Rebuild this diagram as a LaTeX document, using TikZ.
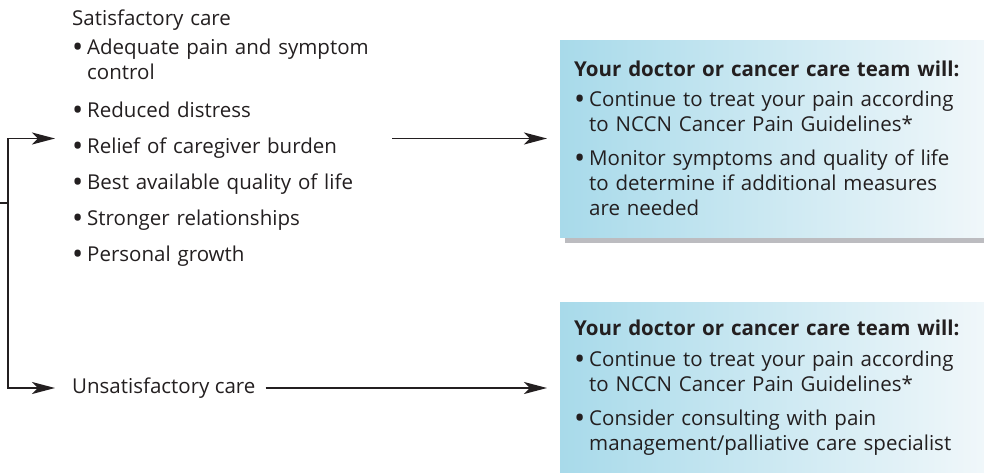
\documentclass[tikz,border=0pt]{standalone}
\usepackage{fontspec}
\setmainfont{Open Sans}
\usetikzlibrary{arrows.meta,positioning,shadows}
\definecolor{inktext}{RGB}{35,31,32}
\definecolor{boxleft}{RGB}{168,218,234}
\definecolor{boxright}{RGB}{240,247,250}
\definecolor{boxshadow}{RGB}{188,188,192}
\newcommand{\blt}[2][9pt]{\par\vspace{#1}\hangindent=15pt\hangafter=1\noindent\makebox[15pt][l]{\raisebox{-0.12em}{\scalebox{1.45}{\textbullet}}}#2\par}

\begin{document}
\begin{tikzpicture}[x=1pt,y=-1pt,
  txt/.style={inner sep=0pt,text=inktext,font=\fontsize{20.5}{25}\selectfont,align=left},
  panel/.style={txt,left color=boxleft,right color=boxright,minimum width=424pt,text width=396pt,inner xsep=14pt,anchor=north west,
    drop shadow={shadow xshift=5pt,shadow yshift=-6pt,fill=boxshadow,opacity=1}},
  arr/.style={-{Stealth[length=23pt,width=12pt,inset=6pt]},line width=1.8pt,draw=inktext}]

	\useasboundingbox (0,0) rectangle (984,473);

	\node[txt,text width=320pt,anchor=north west] (satlist) at (72,10) {Satisfactory care
		\blt[4pt]{Adequate pain and symptom\newline control}
		\blt[13pt]{Reduced distress}
		\blt[11pt]{Relief of caregiver burden}
		\blt[11pt]{Best available quality of life}
		\blt[11pt]{Stronger relationships}
		\blt[11pt]{Personal growth}};
	\node[txt,anchor=west] (unsat) at (72,388) {Unsatisfactory care};

	\node[panel,minimum height=197pt] (box1) at (560,40) {\textbf{Your doctor or cancer care team will:}
		\blt[5pt]{Continue to treat your pain according\newline to NCCN Cancer Pain Guidelines*}
		\blt{Monitor symptoms and quality of life\newline to determine if additional measures\newline are needed}};
	\node[panel,minimum height=171pt,below=65pt of box1.south west,anchor=north west] (box2) {\textbf{Your doctor or cancer care team will:}
		\blt[6pt]{Continue to treat your pain according\newline to NCCN Cancer Pain Guidelines*}
		\blt{Consider consulting with pain\newline management/palliative care specialist}};

	\coordinate (src) at (0,203);
	\coordinate (split) at (8,203);
	\draw[line width=1.8pt,draw=inktext] (src) -- (split);
	\draw[arr] (split) |- ([xshift=-17pt]satlist.west);
	\draw[arr] (split) |- ([xshift=-17pt]unsat.west);
	\draw[arr,shorten >=13pt] (satlist.east) -- (satlist.east -| box1.west);
	\draw[arr,shorten <=10pt,shorten >=13pt] (unsat.east) -- (unsat.east -| box2.west);

\end{tikzpicture}
\end{document}
